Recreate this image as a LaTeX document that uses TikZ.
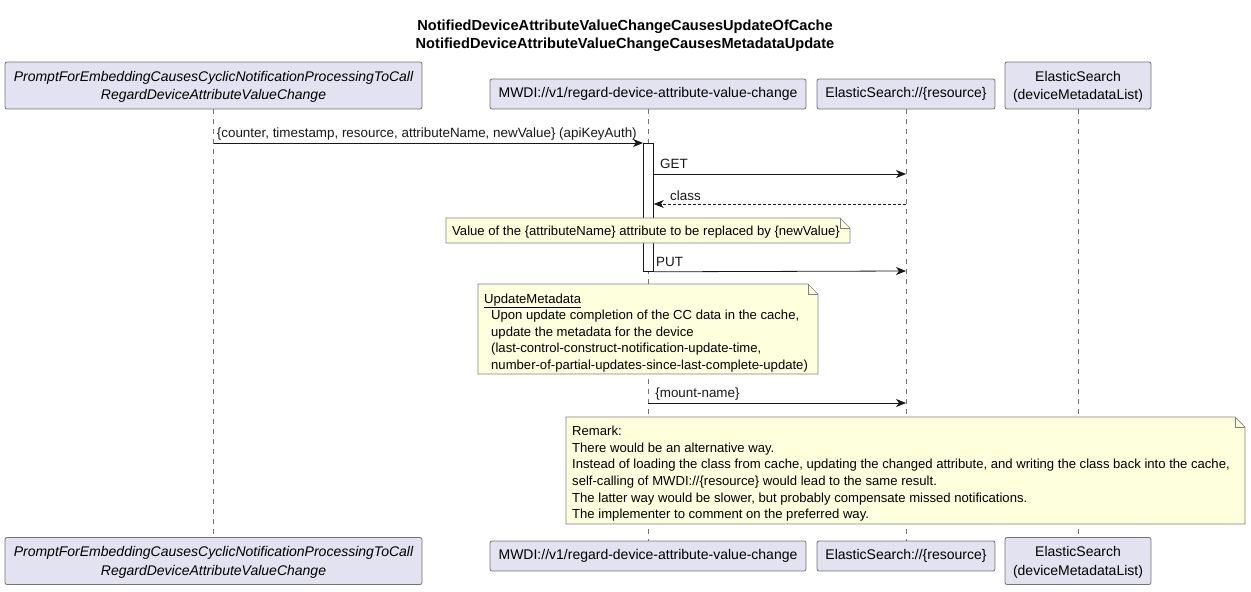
\documentclass[tikz,border=0pt]{standalone}
\usepackage{fontspec}
\setmainfont{Liberation Sans}
\usetikzlibrary{positioning}
\usetikzlibrary{arrows.meta}
\definecolor{partfill}{HTML}{E2E2F0}
\definecolor{notefill}{HTML}{FEFFDD}
\definecolor{lineclr}{HTML}{181818}
\tikzset{
    partbox/.style = {rectangle, rounded corners=2pt, draw=black!55, line width=0.8pt, fill=partfill, align=center, font=\fontsize{14}{18.5}\selectfont, inner sep=0pt},
    partboxi/.style = {partbox, font=\fontsize{14}{18.5}\selectfont\itshape},
    notebody/.style = {draw=black!50, line width=0.7pt, fill=notefill},
    notetext/.style = {align=left, anchor=north west, inner sep=0pt, font=\fontsize{13.1}{16.6}\selectfont},
    msglbl/.style = {font=\fontsize{13.4}{15}\selectfont, inner sep=0pt, anchor=base west, yshift=5.5pt},
    lifeline/.style = {-, line width=0.6pt, black!55, dash pattern=on 5pt off 5pt},
    msg/.style = {-{Stealth[length=10pt,width=8pt,inset=3pt]}, line width=0.8pt, lineclr},
    reply/.style = {msg, dash pattern=on 3pt off 2pt},
    actbar/.style = {rectangle, draw=lineclr, line width=0.8pt, fill=white, inner sep=0pt}
}

\begin{document}
\begin{tikzpicture}[x=1pt, y=-1pt]
  \useasboundingbox (0,0) rectangle (1251,592);

  % title
  \node[font=\fontsize{14.6}{18}\selectfont\bfseries, align=center] (title) at (625,35.5)
    {NotifiedDeviceAttributeValueChangeCausesUpdateOfCache\\NotifiedDeviceAttributeValueChangeCausesMetadataUpdate};

  % participants, top and bottom
  \node[partboxi, minimum width=417pt, minimum height=47pt, text depth=0pt] (prompt) at (213.5,85.5)
    {PromptForEmbeddingCausesCyclicNotificationProcessingToCall\\RegardDeviceAttributeValueChange};
  \node[partbox, minimum width=316pt, minimum height=30pt] (mwdi) at (648,94) {MWDI://v1/regard-device-attribute-value-change};
  \node[partbox, minimum width=178pt, minimum height=30pt] (esres) at (906,94) {ElasticSearch://\{resource\}};
  \node[partbox, minimum width=146pt, minimum height=47pt, text depth=0pt] (esmeta) at (1078,85.5) {ElasticSearch\\(deviceMetadataList)};

  \node[partboxi, minimum width=417pt, minimum height=47pt, text depth=0pt] (promptb) at (213.5,561)
    {PromptForEmbeddingCausesCyclicNotificationProcessingToCall\\RegardDeviceAttributeValueChange};
  \node[partbox, minimum width=316pt, minimum height=30pt] (mwdib) at (648,556) {MWDI://v1/regard-device-attribute-value-change};
  \node[partbox, minimum width=178pt, minimum height=30pt] (esresb) at (906,556) {ElasticSearch://\{resource\}};
  \node[partbox, minimum width=146pt, minimum height=47pt, text depth=0pt] (esmetab) at (1078,561) {ElasticSearch\\(deviceMetadataList)};

  % lifelines
  \draw[lifeline] (prompt.south) -- (promptb.north);
  \draw[lifeline] (mwdi.south) -- (mwdib.north);
  \draw[lifeline] (esres.south) -- (esresb.north);
  \draw[lifeline] (esmeta.south) -- (esmetab.north);

  % activation
  \node[actbar, minimum width=10pt, minimum height=128pt, anchor=north west] (act) at (643,143) {};

  \coordinate (get) at (906,174);
  \coordinate (cls) at (906,204);
  \coordinate (put) at (906,271);
  \coordinate (mnt) at (906,403);

  % messages
  \draw[msg] (prompt.south |- act.north) -- node[msglbl, pos=0, xshift=3pt]
    {\{counter, timestamp, resource, attributeName, newValue\} (apiKeyAuth)} (act.north west);
  \draw[msg] (act.east |- get) -- node[msglbl, pos=0, xshift=6pt] {GET} (get);
  \draw[reply] (cls) -- node[msglbl, pos=1, xshift=16pt, yshift=-1.5pt] {class} (act.east |- cls);
  \draw[msg] (act.south east) -- node[msglbl, pos=0, xshift=2pt] {PUT} (put);
  \draw[msg] (mwdi.south |- mnt) -- node[msglbl, pos=0, xshift=7pt] {\{mount-name\}} (mnt);

  % notes
  \draw[notebody] (446,218) -- (840,218) -- (850,228) -- (850,243) -- (446,243) -- cycle;
  \draw[notebody, fill=none] (840,218) -- (840,228) -- (850,228);
  \node[notetext] (valnote) at (452,225.5) {Value of the \{attributeName\} attribute to be replaced by \{newValue\}};

  \draw[notebody] (478,284) -- (808,284) -- (818,294) -- (818,374) -- (478,374) -- cycle;
  \draw[notebody, fill=none] (808,284) -- (808,294) -- (818,294);
  \node[notetext] (metanote) at (484,293.5) {\underline{UpdateMetadata}\\
    \hspace*{7pt}Upon update completion of the CC data in the cache,\\
    \hspace*{7pt}update the metadata for the device\\
    \hspace*{7pt}(last-control-construct-notification-update-time,\\
    \hspace*{7pt}number-of-partial-updates-since-last-complete-update)};

  \draw[notebody] (566,417) -- (1235,417) -- (1245,427) -- (1245,524) -- (566,524) -- cycle;
  \draw[notebody, fill=none] (1235,417) -- (1235,427) -- (1245,427);
  \node[notetext] (remnote) at (572,426) {Remark:\\
    There would be an alternative way.\\
    Instead of loading the class from cache, updating the changed attribute, and writing the class back into the cache,\\
    self-calling of MWDI://\{resource\} would lead to the same result.\\
    The latter way would be slower, but probably compensate missed notifications.\\
    The implementer to comment on the preferred way.};
\end{tikzpicture}
\end{document}
